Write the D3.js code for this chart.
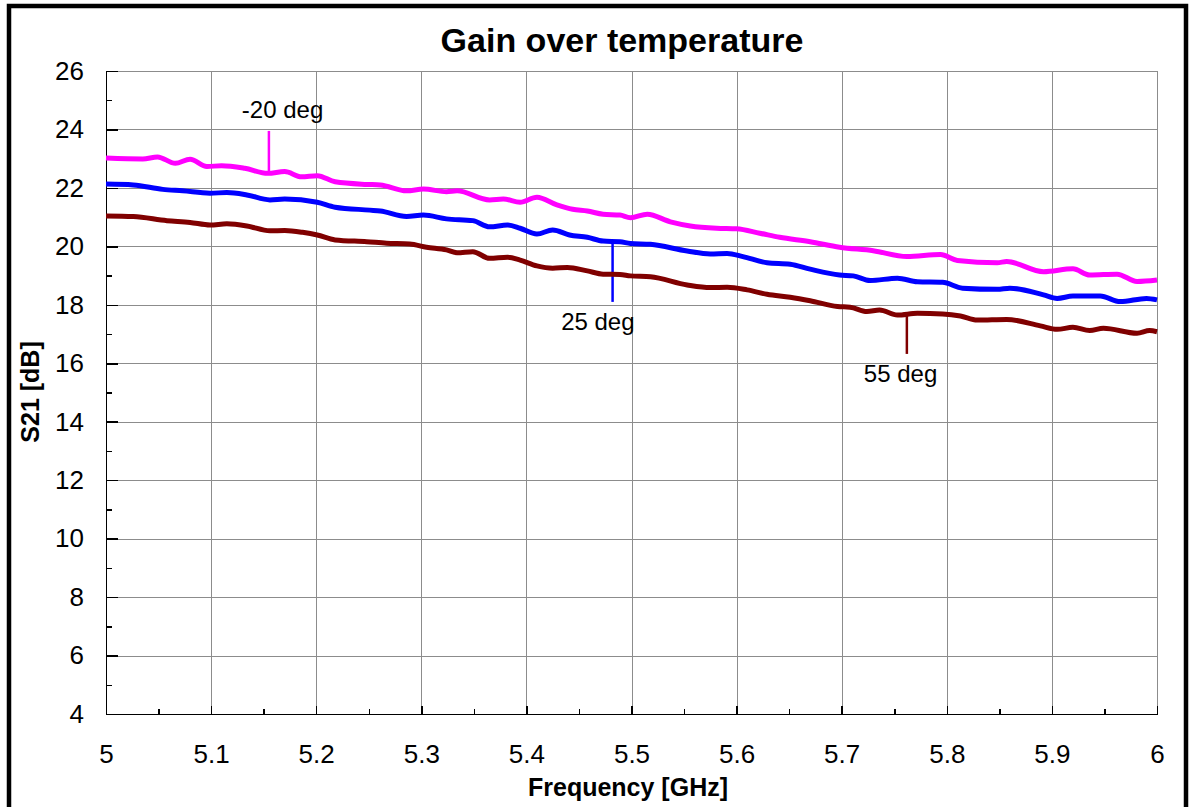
<!DOCTYPE html>
<html>
<head>
<meta charset="UTF-8">
<title>Gain over temperature</title>
<script src="https://cdn.jsdelivr.net/npm/d3@7"></script>
<style>
body { margin: 0; background: #fff; }
svg text { font-family: "Liberation Sans", Arial, sans-serif; fill: #000; }
.grid line { stroke: #8c8c8c; stroke-width: 1; shape-rendering: crispEdges; }
.grid path { stroke-width: 0; }
.axis path, .axis line { stroke: #000; stroke-width: 1.5; shape-rendering: crispEdges; }
.axis text { font-size: 26px; }
</style>
</head>
<body>
<div id="chart"></div>
<script>
// data
var freqM = [5.000,5.035,5.049,5.066,5.080,5.096,5.110,5.132,5.154,5.170,5.186,5.201,5.218,5.248,5.261,5.286,5.302,5.324,5.334,5.365,5.378,5.394,5.410,5.429,5.444,5.458,5.473,5.489,5.499,5.515,5.537,5.556,5.581,5.600,5.622,5.641,5.670,5.698,5.730,5.762,5.794,5.810,5.848,5.857,5.892,5.920,5.936,5.962,5.981,6.000];
var gainM = [23.02,22.99,23.06,22.84,22.98,22.73,22.76,22.67,22.50,22.56,22.38,22.42,22.21,22.12,22.10,21.90,21.96,21.87,21.90,21.59,21.62,21.51,21.68,21.42,21.27,21.21,21.10,21.07,20.98,21.10,20.84,20.70,20.62,20.60,20.45,20.31,20.16,19.97,19.85,19.65,19.72,19.52,19.44,19.48,19.13,19.23,19.02,19.05,18.80,18.85];

var freqB = [5.000,5.026,5.054,5.073,5.099,5.115,5.134,5.156,5.170,5.201,5.218,5.251,5.261,5.286,5.302,5.324,5.349,5.365,5.382,5.394,5.410,5.425,5.441,5.458,5.473,5.489,5.499,5.518,5.553,5.575,5.591,5.606,5.629,5.651,5.670,5.698,5.711,5.727,5.753,5.772,5.796,5.815,5.848,5.860,5.892,5.905,5.920,5.946,5.965,5.990,6.000];
var gainB = [22.13,22.10,21.95,21.90,21.82,21.84,21.76,21.59,21.62,21.51,21.34,21.24,21.21,21.02,21.07,20.94,20.88,20.67,20.73,20.62,20.42,20.56,20.39,20.31,20.18,20.16,20.10,20.07,19.84,19.74,19.76,19.65,19.44,19.39,19.22,19.02,18.99,18.83,18.91,18.79,18.77,18.57,18.53,18.57,18.34,18.22,18.30,18.30,18.11,18.22,18.17];

var freqR = [5.000,5.026,5.058,5.080,5.099,5.115,5.134,5.156,5.170,5.187,5.201,5.218,5.248,5.267,5.289,5.305,5.324,5.334,5.349,5.365,5.382,5.394,5.410,5.425,5.439,5.458,5.473,5.489,5.499,5.518,5.553,5.575,5.591,5.610,5.629,5.651,5.670,5.696,5.708,5.724,5.736,5.753,5.772,5.796,5.813,5.829,5.857,5.889,5.905,5.920,5.936,5.949,5.981,5.993,6.000];
var gainR = [21.04,21.02,20.88,20.82,20.73,20.77,20.70,20.53,20.54,20.48,20.39,20.22,20.16,20.11,20.08,19.97,19.88,19.78,19.82,19.59,19.63,19.53,19.33,19.25,19.28,19.16,19.05,19.04,18.99,18.96,18.68,18.59,18.60,18.51,18.36,18.26,18.14,17.94,17.92,17.77,17.82,17.65,17.71,17.69,17.62,17.48,17.50,17.28,17.16,17.23,17.12,17.20,17.03,17.12,17.08];

var seriesNames = ["-20 deg", "25 deg", "55 deg"];
var seriesColors = ["#ff00ff", "#0000ff", "#800000"];
// label markers: frequency, top and bottom of the marker line, text baseline
var markFreq = [5.155, 5.482, 5.762];
var markTop = [23.95, 20.15, 17.70];
var markBottom = [22.50, 18.10, 16.32];
var labelFreq = [5.168, 5.468, 5.756];
var labelGain = [24.40, 17.13, 15.35];

var xTicks = [5, 5.1, 5.2, 5.3, 5.4, 5.5, 5.6, 5.7, 5.8, 5.9, 6];
var yTicks = [4, 6, 8, 10, 12, 14, 16, 18, 20, 22, 24, 26];

var width = 1189, height = 807;
var padL = 106, padR = 1157, padT = 71, padB = 714;

var x = d3.scaleLinear().domain([5, 6]).range([padL, padR]);
var y = d3.scaleLinear().domain([4, 26]).range([padB, padT]);

var svg = d3.select("#chart").append("svg")
	.attr("width", width)
	.attr("height", height);

// outer frame
svg.append("rect")
	.attr("x", 9).attr("y", 6)
	.attr("width", 1177).attr("height", 850)
	.attr("fill", "none")
	.attr("stroke", "#000")
	.attr("stroke-width", 4.5);

// grid
svg.append("g").attr("class", "grid")
	.attr("transform", "translate(0," + padB + ")")
	.call(d3.axisBottom(x).tickValues(xTicks).tickSize(padT - padB).tickFormat(""));
svg.append("g").attr("class", "grid")
	.attr("transform", "translate(" + padL + ",0)")
	.call(d3.axisLeft(y).tickValues(yTicks).tickSize(padL - padR).tickFormat(""));

// minor ticks
svg.append("g").attr("class", "axis")
	.attr("transform", "translate(0," + padB + ")")
	.call(d3.axisTop(x).tickValues(d3.range(5.05, 6, 0.1)).tickSize(5).tickFormat(""))
	.select(".domain").remove();
svg.append("g").attr("class", "axis")
	.attr("transform", "translate(" + padL + ",0)")
	.call(d3.axisRight(y).tickValues(d3.range(5, 26, 2)).tickSize(6).tickFormat(""))
	.select(".domain").remove();

// major ticks + labels
var xAxis = svg.append("g").attr("class", "axis")
	.attr("transform", "translate(0," + padB + ")")
	.call(d3.axisBottom(x).tickValues(xTicks).tickSizeInner(-8).tickSizeOuter(0).tickFormat(d3.format("")));
xAxis.selectAll("text").attr("dy", "0.71em").attr("y", 31);

svg.append("g").attr("class", "axis")
	.attr("transform", "translate(" + padL + ",0)")
	.call(d3.axisLeft(y).tickValues(yTicks).tickSizeInner(-12).tickSizeOuter(0).tickPadding(22));

// lines
var freqs = [freqM, freqB, freqR];
var gains = [gainM, gainB, gainR];
var line = d3.line()
	.x(function(d){ return x(d[0]); })
	.y(function(d){ return y(d[1]); })
	.curve(d3.curveMonotoneX);

for (var i = 0; i < 3; i++) {
	var pts = d3.zip(freqs[i], gains[i]);
	svg.append("path")
		.attr("d", line(pts))
		.attr("fill", "none")
		.attr("stroke", seriesColors[i])
		.attr("stroke-width", 5)
		.attr("stroke-linejoin", "round");

	svg.append("line")
		.attr("x1", x(markFreq[i])).attr("x2", x(markFreq[i]))
		.attr("y1", y(markTop[i])).attr("y2", y(markBottom[i]))
		.attr("stroke", seriesColors[i])
		.attr("stroke-width", 2.5);

	svg.append("text")
		.attr("x", x(labelFreq[i]))
		.attr("y", y(labelGain[i]))
		.attr("text-anchor", "middle")
		.style("font-size", "24px")
		.text(seriesNames[i]);
}

// titles
svg.append("text")
	.attr("x", 622).attr("y", 52)
	.attr("text-anchor", "middle")
	.style("font-size", "34px").style("font-weight", "bold")
	.text("Gain over temperature");

svg.append("text")
	.attr("x", 628).attr("y", 796)
	.attr("text-anchor", "middle")
	.style("font-size", "25px").style("font-weight", "bold")
	.text("Frequency [GHz]");

svg.append("text")
	.attr("transform", "translate(39,392) rotate(-90)")
	.attr("text-anchor", "middle")
	.style("font-size", "25px").style("font-weight", "bold")
	.text("S21 [dB]");
</script>
</body>
</html>
